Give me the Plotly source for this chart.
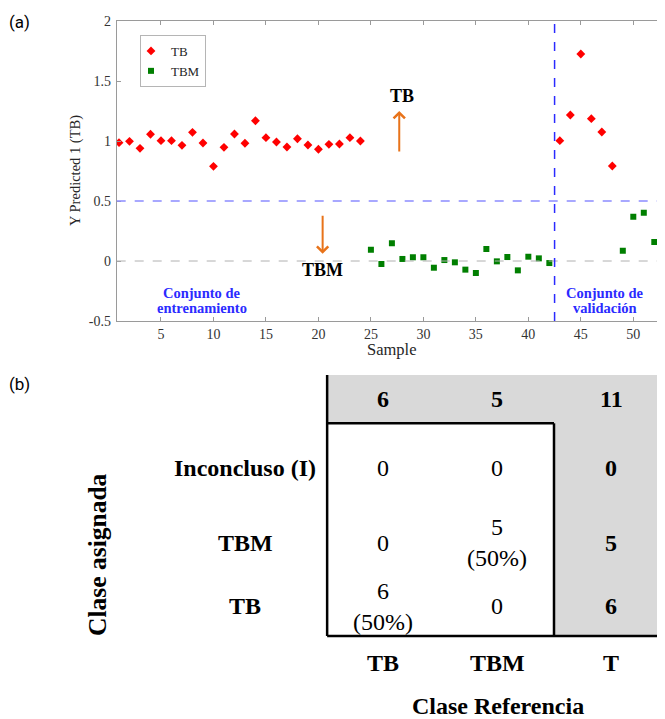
import plotly.graph_objects as go

# page size and body offset of the rendered html
PAGE_W, PAGE_H = 665, 719
OFF = 8
W, H = PAGE_W - OFF, PAGE_H - OFF

# ---------------- data (a) ----------------
tb_sample = list(range(1, 25)) + [43, 44, 45, 46, 47, 48]
tb_pred = [0.986, 0.997, 0.939, 1.056, 1.003, 1.003, 0.964, 1.072, 0.983, 0.789,
           0.947, 1.058, 0.981, 1.169, 1.028, 0.992, 0.950, 1.019, 0.967, 0.931,
           0.972, 0.975, 1.028, 1.000,
           1.003, 1.217, 1.725, 1.186, 1.075, 0.792]
tbm_sample = list(range(25, 43)) + [49, 50, 51, 52, 53]
tbm_pred = [0.094, -0.025, 0.147, 0.017, 0.031, 0.031, -0.056, 0.008, -0.011, -0.072,
            -0.100, 0.100, -0.003, 0.033, -0.078, 0.036, 0.022, -0.017,
            0.086, 0.369, 0.403, 0.158, -0.258]
threshold = 0.5
split_at = 42.5
x_ticks = [5, 10, 15, 20, 25, 30, 35, 40, 45, 50]
y_ticks = [-0.5, 0, 0.5, 1, 1.5, 2]
y_ticktext = ["-0.5", "0", "0.5", "1", "1.5", "2"]

# ---------------- data (b) ----------------
ref_classes = ["TB", "TBM", "T"]
assigned_classes = ["Inconcluso (I)", "TBM", "TB"]
col_totals = ["6", "5", "11"]
cells = [["0", "0", "0"],
         ["0", "5<br>(50%)", "5"],
         ["6<br>(50%)", "0", "6"]]

SERIF = "Liberation Serif"


def px_x(p):
    """page pixel -> paper x"""
    return (p - OFF) / W


def px_y(p):
    """page pixel -> paper y"""
    return 1 - (p - OFF) / H


def note(x, y, text, font, xref="paper", yref="paper", **kw):
    d = dict(x=x, y=y, xref=xref, yref=yref, text=text, showarrow=False,
             xanchor="center", yanchor="middle", font=font)
    d.update(kw)
    return d


fig = go.Figure()

fig.add_trace(go.Scatter(
    x=tb_sample, y=tb_pred, mode="markers", name="TB",
    marker=dict(symbol="diamond", size=6.8, color="#ff0000", line=dict(width=0)),
    xaxis="x", yaxis="y", cliponaxis=True))
fig.add_trace(go.Scatter(
    x=tbm_sample, y=tbm_pred, mode="markers", name="TBM",
    marker=dict(symbol="square", size=6, color="#007f00", line=dict(width=0)),
    xaxis="x", yaxis="y", cliponaxis=True))

shapes = []
shapes.append(dict(type="line", xref="x domain", yref="y", x0=0, x1=1, y0=0, y1=0,
                   line=dict(color="#b0b0b0", width=1, dash="dash")))
shapes.append(dict(type="line", xref="x domain", yref="y", x0=0, x1=1, y0=threshold, y1=threshold,
                   line=dict(color="#8c8cff", width=1.3, dash="dash")))
shapes.append(dict(type="line", xref="x", yref="y domain", x0=split_at, x1=split_at, y0=0, y1=1,
                   line=dict(color="#2a2aff", width=1.5, dash="dash")))

annotations = []
orange = "#e8731a"
annotations.append(dict(x=27.7, y=1.25, ax=27.7, ay=0.9, xref="x", yref="y", axref="x", ayref="y",
                        showarrow=True, arrowhead=4, arrowsize=1.1, arrowwidth=2, arrowcolor=orange, text=""))
annotations.append(dict(x=20.4, y=0.06, ax=20.4, ay=0.39, xref="x", yref="y", axref="x", ayref="y",
                        showarrow=True, arrowhead=4, arrowsize=1.1, arrowwidth=2, arrowcolor=orange, text=""))
annotations.append(note(28.0, 1.375, "<b>TB</b>", dict(family=SERIF, size=18, color="black"), "x", "y"))
annotations.append(note(20.4, -0.075, "<b>TBM</b>", dict(family=SERIF, size=18, color="black"), "x", "y"))
blue = "#2b2bff"
for txt, xx, yy in [("Conjunto de", 8.9, -0.263), ("entrenamiento", 8.9, -0.39),
                    ("Conjunto de", 47.3, -0.263), ("validación", 47.3, -0.39)]:
    annotations.append(note(xx, yy, "<b>%s</b>" % txt, dict(family=SERIF, size=14.5, color=blue), "x", "y"))
annotations.append(note(px_x(76), px_y(171), "Y Predicted 1 (TB)",
                        dict(family=SERIF, size=14.5, color="#262626"), textangle=-90))
annotations.append(note(px_x(392), px_y(349), "Sample", dict(family=SERIF, size=16.5, color="#262626")))
annotations.append(note(px_x(19), px_y(22), "(a)", dict(family="Roboto", size=17, color="black")))
annotations.append(note(px_x(19), px_y(384), "(b)", dict(family="Roboto", size=17, color="black")))

# ---------------- table (b) ----------------
gray = "#d9d9d9"
top_band = (-1.352, -0.652)
bottom = 2.43
left = -0.49
inner = 1.5
right_edge = 2.7
row_pos = [0, 1.08, 2]          # vertical placement of the three assigned-class rows
header_pos = -1
col_label_pos = 2.817
shapes.append(dict(type="rect", xref="x2", yref="y2", x0=left, x1=right_edge, y0=top_band[0], y1=top_band[1],
                   fillcolor=gray, line=dict(width=0), layer="below"))
shapes.append(dict(type="rect", xref="x2", yref="y2", x0=inner, x1=right_edge, y0=top_band[0], y1=bottom,
                   fillcolor=gray, line=dict(width=0), layer="below"))
lw = 2.5
for x0, x1, y0, y1 in [(left, left, top_band[0], bottom), (left, inner, top_band[1], top_band[1]),
                       (inner, inner, top_band[1], bottom), (left, right_edge, bottom, bottom)]:
    shapes.append(dict(type="line", xref="x2", yref="y2", x0=x0, x1=x1, y0=y0, y1=y1,
                       line=dict(color="black", width=lw)))

TF = dict(family=SERIF, size=24, color="black")
for i, v in enumerate(col_totals):
    annotations.append(note(i, header_pos, "<b>%s</b>" % v, TF, "x2", "y2"))
for r, lab in enumerate(assigned_classes):
    annotations.append(note(-1.21, row_pos[r], "<b>%s</b>" % lab, TF, "x2", "y2"))
    for c, v in enumerate(cells[r]):
        txt = "<b>%s</b>" % v if c == 2 else v
        annotations.append(note(c, row_pos[r], txt, TF, "x2", "y2"))
for c, lab in enumerate(ref_classes):
    annotations.append(note(c, col_label_pos, "<b>%s</b>" % lab, TF, "x2", "y2"))
annotations.append(note(1.01, 3.45, "<b>Clase Referencia</b>", TF, "x2", "y2"))
annotations.append(note(-2.51, 1.257, "<b>Clase asignada</b>", dict(TF, size=25.5), "x2", "y2",
                        textangle=-90))

# table axis: column centres at page px 383 + 114*i, rows at page px 468.3 + 69*r
x2_range = [(OFF - 383) / 114, (PAGE_W - 383) / 114]
y2_range = [(PAGE_H - 468.3) / 69, (360 - 468.3) / 69]

axis_gray = "#9a9a9a"
tickfont = dict(family=SERIF, size=14, color="#333333")
fig.update_layout(
    width=W, height=H,
    margin=dict(l=0, r=0, t=0, b=0, autoexpand=False),
    paper_bgcolor="white", plot_bgcolor="white",
    showlegend=True,
    legend=dict(x=px_x(140), y=px_y(35), xanchor="left", yanchor="top",
                bgcolor="white", bordercolor="#b5b5b5", borderwidth=1,
                font=dict(family=SERIF, size=13, color="#262626"),
                tracegroupgap=0, itemwidth=30, indentation=-10),
    xaxis=dict(domain=[px_x(116.7), px_x(PAGE_W)], range=[0.78, 53.02], tickvals=x_ticks,
               showgrid=False, zeroline=False, showline=True, linecolor=axis_gray, linewidth=1,
               mirror="ticks", ticks="inside", ticklen=4, tickcolor=axis_gray,
               tickfont=tickfont, anchor="y", automargin=False),
    yaxis=dict(domain=[px_y(321), px_y(21)], range=[-0.5, 2], tickvals=y_ticks, ticktext=y_ticktext,
               showgrid=False, zeroline=False, showline=True, linecolor=axis_gray, linewidth=1,
               mirror="ticks", ticks="inside", ticklen=4, tickcolor=axis_gray,
               tickfont=tickfont, anchor="x", automargin=False, ticklabelstandoff=2),
    xaxis2=dict(domain=[0, 1], range=x2_range, visible=False, anchor="y2", fixedrange=True),
    yaxis2=dict(domain=[0, px_y(360)], range=y2_range, visible=False, anchor="x2", fixedrange=True),
    shapes=shapes,
    annotations=annotations,
)

fig.write_html("out.html")
